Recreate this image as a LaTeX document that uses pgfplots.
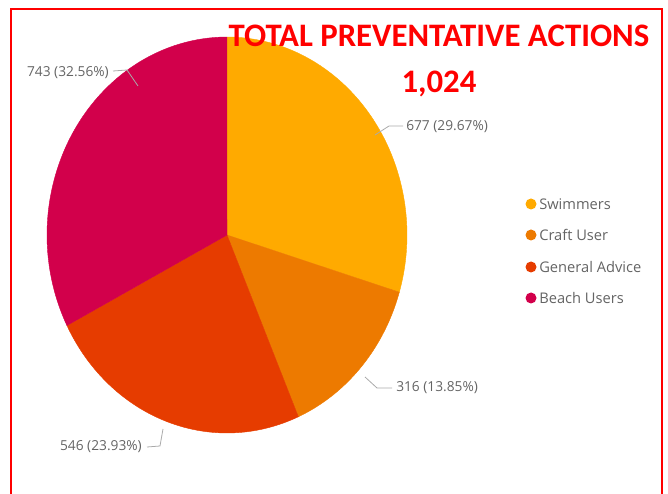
\documentclass[border=0pt]{standalone}
\usepackage{pgfplots}
\pgfplotsset{compat=1.18}
\usepackage{fontspec}
\setmainfont{Open Sans}
\newfontfamily\titlefont{Carlito}
\definecolor{swim}{RGB}{255,170,0}
\definecolor{craft}{RGB}{237,122,0}
\definecolor{general}{RGB}{230,60,0}
\definecolor{beach}{RGB}{210,0,75}
\definecolor{lbl}{RGB}{100,100,100}
\definecolor{leader}{RGB}{170,170,170}
\begin{document}
\begin{tikzpicture}
\path[use as bounding box] (0,0) rectangle (501pt,369.75pt);
% values
\def\vA{677}\def\vB{316}\def\vC{546}\def\vD{743}
\pgfmathsetmacro\tot{\vA+\vB+\vC+\vD}
\pgfmathsetmacro\aA{90}
\pgfmathsetmacro\aB{\aA-\vA/\tot*360}
\pgfmathsetmacro\aC{\aB-\vB/\tot*360}
\pgfmathsetmacro\aD{\aC-\vC/\tot*360}
\pgfmathsetmacro\aE{\aD-\vD/\tot*360}
\begin{axis}[at={(170.25pt,193.5pt)},anchor=center,scale only axis,
  width=270pt,height=297pt,xmin=-1,xmax=1,ymin=-1,ymax=1,hide axis,clip=false]
\addplot[fill=swim,draw=swim,line width=0.3pt,domain=\aB:\aA,samples=90,variable=\t] ({cos(\t)},{sin(\t)}) -- (0,0) -- cycle;
\addplot[fill=craft,draw=craft,line width=0.3pt,domain=\aC:\aB,samples=60,variable=\t] ({cos(\t)},{sin(\t)}) -- (0,0) -- cycle;
\addplot[fill=general,draw=general,line width=0.3pt,domain=\aD:\aC,samples=80,variable=\t] ({cos(\t)},{sin(\t)}) -- (0,0) -- cycle;
\addplot[fill=beach,draw=beach,line width=0.3pt,domain=\aE:\aD,samples=90,variable=\t] ({cos(\t)},{sin(\t)}) -- (0,0) -- cycle;
\end{axis}
\begin{scope}[x=0.75pt,y=0.75pt]
% border
\draw[red,line width=1.2pt] (11,-10) -- (11,484) -- (662,484) -- (662,-10);
% title
\node[anchor=base,text=red,font=\titlefont\bfseries\fontsize{24.6}{28}\selectfont,inner sep=0] at (439,446) {TOTAL PREVENTATIVE ACTIONS};
\node[anchor=base,text=red,font=\titlefont\bfseries\fontsize{24.6}{28}\selectfont,inner sep=0] at (439,400) {1,024};
% leader lines
\draw[leader,line width=0.6pt] (113,422) -- (127,423) -- (138,407);
\draw[leader,line width=0.6pt] (375,358) -- (389,367) -- (403,367);
\draw[leader,line width=0.6pt] (365,116) -- (377,105) -- (392,105);
\draw[leader,line width=0.6pt] (147,46) -- (160,47) -- (163,64);
% labels
\begin{scope}[every node/.style={text=lbl,font=\fontsize{10.3}{12}\selectfont,inner sep=0}]
\node[anchor=east] at (109,420) {743 (32.56\%)};
\node[anchor=west] at (406,366) {677 (29.67\%)};
\node[anchor=west] at (396,105) {316 (13.85\%)};
\node[anchor=east] at (142,46) {546 (23.93\%)};
\end{scope}
% legend
\begin{scope}[every node/.style={text=lbl,font=\fontsize{11}{13}\selectfont,inner sep=0,anchor=west}]
\fill[swim] (531,289) circle (5.5);
\node at (539,289) {Swimmers};
\fill[craft] (531,258) circle (5.5);
\node at (539,258) {Craft User};
\fill[general] (531,226) circle (5.5);
\node at (539,226) {General Advice};
\fill[beach] (531,195) circle (5.5);
\node at (539,195) {Beach Users};
\end{scope}
\end{scope}
\end{tikzpicture}
\end{document}
